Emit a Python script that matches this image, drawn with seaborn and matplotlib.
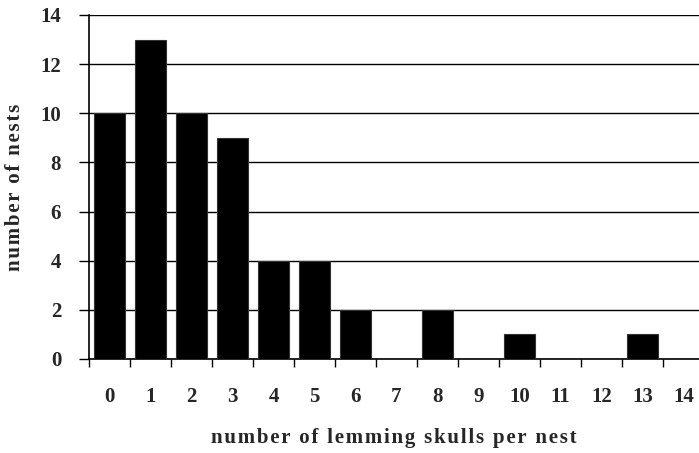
import matplotlib
matplotlib.use("Agg")
import matplotlib.pyplot as plt
import seaborn as sns
import pandas as pd
from matplotlib.ticker import FixedLocator, NullFormatter

skulls = ["0", "1", "2", "3", "4", "5", "6", "7", "8", "9", "10", "11", "12", "13", "14"]
nests = [10, 13, 10, 9, 4, 4, 2, 0, 2, 0, 1, 0, 0, 1, 0]
y_ticks = [0, 2, 4, 6, 8, 10, 12, 14]
x_title = "number of lemming skulls per nest"
y_title = "number of nests"


def spaced(text, gap):
    """Letter-space a title by putting a narrow space between characters."""
    return gap.join(text)


df = pd.DataFrame({"skulls": skulls, "nests": nests})

sns.set_theme(style="white")
plt.rcParams["font.family"] = ["Liberation Serif", "DejaVu Serif"]
plt.rcParams["font.weight"] = "bold"

fig = plt.figure(figsize=(6.99, 4.53), dpi=100)
W, H = 699, 453
ax = fig.add_axes([89 / W, 94 / H, (699 - 89) / W, (359 - 15) / H])

sns.barplot(data=df, x="skulls", y="nests", order=skulls, color="black",
            width=0.75, edgecolor="#333333", linewidth=0.8, saturation=1,
            ax=ax, zorder=3)

ax.set_ylim(0, 14)
ax.set_xlim(-0.5, -0.5 + 610 / 41)
ax.set_yticks(y_ticks)
ax.yaxis.grid(True, color="black", linewidth=1.0, zorder=0)
ax.set_axisbelow(True)

# tick marks sit on the category boundaries, labels at category centres
ax.set_xticks(range(len(skulls)))
ax.set_xticklabels(skulls)
ax.xaxis.set_minor_locator(FixedLocator([i - 0.5 for i in range(len(skulls) + 1)]))
ax.xaxis.set_minor_formatter(NullFormatter())
ax.tick_params(axis="x", which="major", length=0, pad=20, labelsize=15)
ax.tick_params(axis="x", which="minor", length=6, width=1, color="black",
               direction="out", bottom=True)
ax.tick_params(axis="y", which="major", length=7, width=1, color="black",
               direction="out", left=True, pad=13, labelsize=15)

for lbl in ax.get_xticklabels() + ax.get_yticklabels():
    lbl.set_fontweight("bold")

for side in ["top", "right"]:
    ax.spines[side].set_visible(False)
for side in ["left", "bottom"]:
    ax.spines[side].set_color("black")
    ax.spines[side].set_linewidth(1.2)

ax.set_xlabel(spaced(x_title, "\u200a"), fontsize=15, fontweight="bold", labelpad=15)
ax.set_ylabel(spaced(y_title, "\u200a"), fontsize=15, fontweight="bold", labelpad=11)

fig.savefig("out.png", dpi=100)
